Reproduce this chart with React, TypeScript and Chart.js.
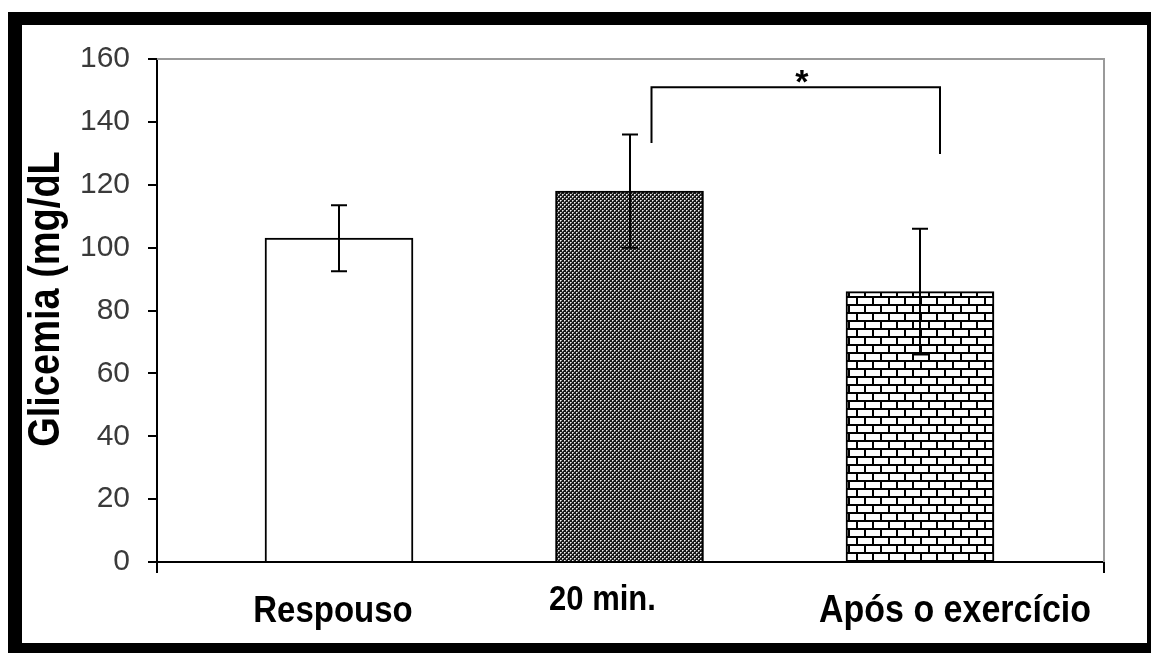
import { useEffect, useRef } from "react";
import { Chart, registerables } from "chart.js";

Chart.register(...registerables);

// ---- data ----
const categories = ["Respouso", "20 min.", "Após o exercício"];
const means = [103, 118, 86];
const errors = [10.5, 18, 20];
const yTickValues = [0, 20, 40, 60, 80, 100, 120, 140, 160];
const sigPair = [1, 2];
const sigLabel = "*";
const yTitle = "Glicemia (mg/dL";

const W = 1151;
const H = 653;

function makeMeshPattern(ctx: CanvasRenderingContext2D) {
  const c = document.createElement("canvas");
  c.width = 4;
  c.height = 4;
  const g = c.getContext("2d")!;
  g.fillStyle = "#1a1a1a";
  g.fillRect(0, 0, 4, 4);
  g.fillStyle = "#f2f2f2";
  g.fillRect(0, 0, 1, 1);
  g.fillRect(2, 2, 1, 1);
  g.fillStyle = "#a0a0a0";
  g.fillRect(1, 0, 1, 1);
  g.fillRect(0, 1, 1, 1);
  g.fillRect(3, 2, 1, 1);
  g.fillRect(2, 3, 1, 1);
  return ctx.createPattern(c, "repeat")!;
}

function makeBrickPattern(ctx: CanvasRenderingContext2D) {
  const c = document.createElement("canvas");
  c.width = 16;
  c.height = 16;
  const g = c.getContext("2d")!;
  g.fillStyle = "#ffffff";
  g.fillRect(0, 0, 16, 16);
  g.fillStyle = "#000000";
  g.fillRect(0, 0, 16, 2);
  g.fillRect(0, 8, 16, 2);
  g.fillRect(0, 0, 2, 8);
  g.fillRect(8, 8, 2, 8);
  return ctx.createPattern(c, "repeat")!;
}

const decorPlugin = {
  id: "decor",
  afterDatasetsDraw(chart: any) {
    const { ctx, chartArea } = chart;
    const xs = chart.scales.x;
    const ys = chart.scales.y;
    ctx.save();
    // gray top/right frame of plot area
    ctx.strokeStyle = "#9a9a9a";
    ctx.lineWidth = 2;
    ctx.beginPath();
    ctx.moveTo(chartArea.left, chartArea.top);
    ctx.lineTo(chartArea.right, chartArea.top);
    ctx.lineTo(chartArea.right, chartArea.bottom);
    ctx.stroke();

    // error bars
    ctx.strokeStyle = "#000";
    ctx.lineWidth = 2;
    means.forEach((m, i) => {
      const x = Math.round(xs.getPixelForValue(i));
      const yt = ys.getPixelForValue(m + errors[i]);
      const yb = ys.getPixelForValue(m - errors[i]);
      ctx.beginPath();
      ctx.moveTo(x, yt);
      ctx.lineTo(x, yb);
      ctx.moveTo(x - 8, yt);
      ctx.lineTo(x + 8, yt);
      ctx.moveTo(x - 8, yb);
      ctx.lineTo(x + 8, yb);
      ctx.stroke();
    });

    // significance bracket
    const bx1 = xs.getPixelForValue(sigPair[0]) + 22;
    const bx2 = xs.getPixelForValue(sigPair[1]) + 20;
    const byTop = ys.getPixelForValue(151);
    const byL = ys.getPixelForValue(133.3);
    const byR = ys.getPixelForValue(129.8);
    ctx.beginPath();
    ctx.moveTo(bx1, byL);
    ctx.lineTo(bx1, byTop);
    ctx.lineTo(bx2, byTop);
    ctx.lineTo(bx2, byR);
    ctx.stroke();
    ctx.fillStyle = "#000";
    ctx.font = "bold 34px 'Liberation Sans', Arial, sans-serif";
    ctx.textAlign = "center";
    ctx.textBaseline = "alphabetic";
    ctx.fillText(sigLabel, (bx1 + bx2) / 2 + 6, byTop + 6);

    // category labels (slightly tall, as in the source image)
    const offX = [-6, -27, 35];
    const baseY = [622, 610, 622];
    const sizes = [33, 31, 34];
    categories.forEach((c, i) => {
      ctx.save();
      ctx.translate(xs.getPixelForValue(i) + offX[i], baseY[i]);
      ctx.scale(1, 1.12);
      ctx.font = `bold ${sizes[i]}px 'Liberation Sans', Arial, sans-serif`;
      ctx.fillText(c, 0, 0);
      ctx.restore();
    });

    // y title
    ctx.translate(47, 299);
    ctx.rotate(-Math.PI / 2);
    ctx.scale(1, 1.15);
    ctx.font = "bold 38px 'Liberation Sans', Arial, sans-serif";
    ctx.textBaseline = "middle";
    ctx.fillText(yTitle, 0, 0);
    ctx.restore();
  },
};

export default function App() {
  const ref = useRef<HTMLCanvasElement | null>(null);

  useEffect(() => {
    const canvas = ref.current!;
    const ctx = canvas.getContext("2d")!;
    const mesh = makeMeshPattern(ctx);
    const brick = makeBrickPattern(ctx);
    const pxPerUnit = (920 - 339) / 2;
    const chart = new Chart(canvas, {
      type: "bar",
      data: {
        datasets: [
          {
            data: means.map((v, i) => ({ x: i, y: v })),
            backgroundColor: ["#ffffff", mesh as any, brick as any],
            borderColor: "#000",
            borderWidth: 2,
            borderSkipped: "bottom",
            barThickness: 148,
          },
        ],
      },
      options: {
        animation: false,
        responsive: false,
        devicePixelRatio: 1,
        layout: { padding: { left: 0, top: 59, right: W - 1104, bottom: 0 } },
        plugins: { legend: { display: false }, tooltip: { enabled: false } },
        scales: {
          x: {
            type: "linear",
            offset: false,
            min: (157 - 339) / pxPerUnit,
            max: (1104 - 339) / pxPerUnit,
            afterBuildTicks: (s: any) => {
              s.ticks = [{ value: s.min }, { value: s.max }];
            },
            afterFit: (s: any) => {
              s.height = H - 562;
            },
            ticks: { display: false },
            grid: {
              offset: false,
              drawOnChartArea: false,
              drawTicks: true,
              tickLength: 11,
              color: "#000",
              lineWidth: 2,
            },
            border: { color: "#000", width: 2 },
          },
          y: {
            min: 0,
            max: 160,
            afterBuildTicks: (s: any) => {
              s.ticks = yTickValues.map((v) => ({ value: v }));
            },
            afterFit: (s: any) => {
              s.width = 157;
            },
            ticks: {
              padding: 18,
              color: "#3a3a3a",
              font: { family: "'Liberation Sans', Arial, sans-serif", size: 30 },
            },
            grid: {
              drawOnChartArea: false,
              tickLength: 9,
              color: "#000",
              lineWidth: 2,
            },
            border: { color: "#000", width: 2 },
          },
        },
      },
      plugins: [decorPlugin],
    });
    return () => chart.destroy();
  }, []);

  return (
    <div>
      <div
        style={{
          position: "fixed",
          left: 8,
          top: 12,
          width: W - 8,
          height: H - 12,
          boxSizing: "border-box",
          borderStyle: "solid",
          borderColor: "#000",
          borderTopWidth: 13,
          borderLeftWidth: 14,
          borderRightWidth: 4,
          borderBottomWidth: 10,
          background: "#fff",
        }}
      />
      <canvas
        ref={ref}
        width={W}
        height={H}
        style={{ position: "fixed", left: 0, top: 0, width: W, height: H }}
      />
    </div>
  );
}
